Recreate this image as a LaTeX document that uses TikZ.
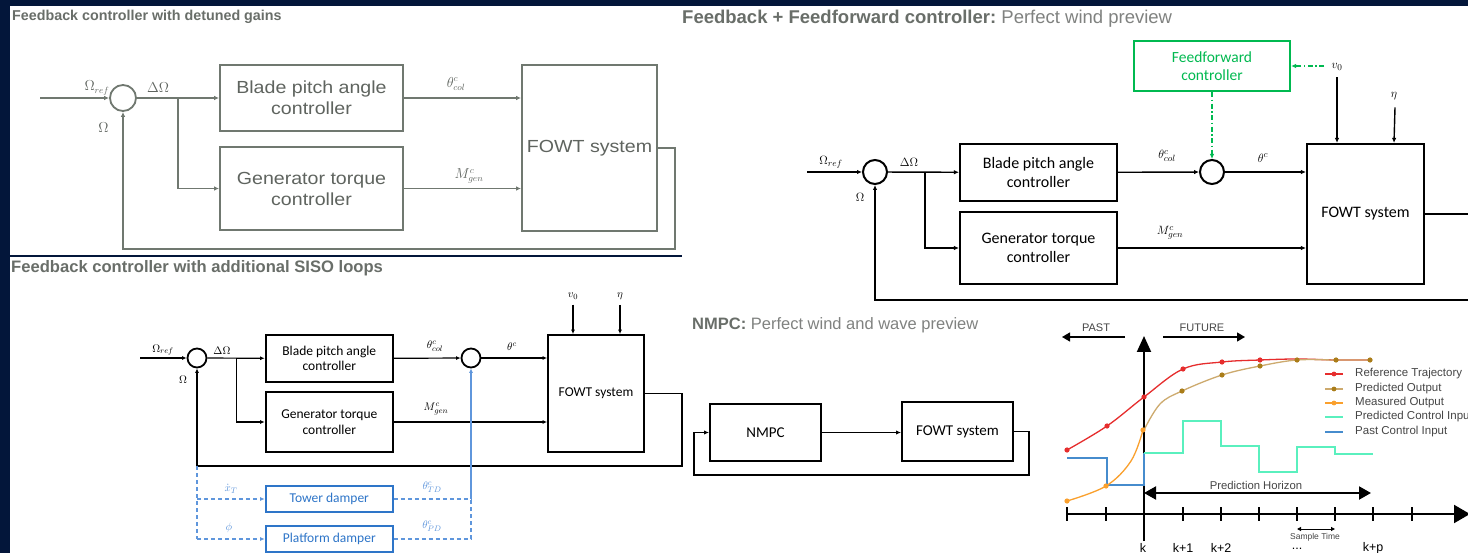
\documentclass[tikz,border=0pt]{standalone}
\usepackage{fontspec}
\setmainfont{Liberation Sans}
\newfontfamily\calibrifont{Carlito}
\newfontfamily\widefont[FakeStretch=1.12]{Liberation Sans}
\usetikzlibrary{arrows.meta, calc, positioning}

\definecolor{navybg}{RGB}{3,22,58}
\definecolor{titlegray}{RGB}{105,110,105}
\definecolor{titlelight}{RGB}{128,130,128}
\definecolor{p1gray}{RGB}{112,120,112}
\definecolor{p1text}{RGB}{95,100,95}
\definecolor{ffgreen}{RGB}{0,185,80}
\definecolor{dampblue}{RGB}{46,117,200}
\definecolor{damplight}{RGB}{95,150,220}
\definecolor{refred}{RGB}{230,45,45}
\definecolor{predbrown}{RGB}{170,125,25}
\definecolor{predline}{RGB}{205,170,110}
\definecolor{measorange}{RGB}{250,160,45}
\definecolor{ctrlgreen}{RGB}{90,240,190}
\definecolor{pastblue}{RGB}{70,140,205}
\definecolor{legtext}{RGB}{70,70,70}

\begin{document}
\begin{tikzpicture}[x=1pt, y=-1pt,
  titletxt/.style={anchor=west, inner sep=0pt, text=titlegray},
  sumnode/.style={circle, draw, inner sep=0pt},
  box1/.style={draw=p1gray, line width=1.8pt, align=center, inner sep=0pt, text=p1text, font=\widefont\fontsize{17.5}{21}\selectfont},
  ln1/.style={draw=p1gray, line width=1.6pt, -{Latex[length=5pt,width=4.5pt]}},
  lab1/.style={text=p1text, font=\fontsize{13.5}{15}\selectfont},
  box2/.style={draw, line width=2.2pt, align=center, inner sep=0pt, font=\calibrifont\fontsize{16}{19}\selectfont},
  ln2/.style={line width=1.4pt, -{Latex[length=5pt,width=4.5pt]}},
  lab2/.style={font=\fontsize{13}{15}\selectfont},
  box3/.style={draw, line width=1.8pt, align=center, inner sep=0pt, font=\calibrifont\fontsize{13.5}{15.5}\selectfont},
  ln3/.style={line width=1.2pt, -{Latex[length=4.5pt,width=4pt]}},
  lab3/.style={font=\fontsize{11}{13}\selectfont},
  bl3/.style={damplight, line width=1.2pt, dash pattern=on 4pt off 3pt},
  chartxt/.style={text=legtext, inner sep=0pt}
]
\clip (0,0) rectangle (1468,553);
% fondo
\fill[navybg] (0,0) rectangle (1468,553);
\fill[white] (10,6) rectangle (1468,553);
\draw[navybg, line width=2.2pt] (10,256) -- (682,256);

% Panel 1: ganancias desintonizadas
\node[titletxt, font=\fontsize{14.3}{16}\selectfont\bfseries] (t1) at (12,17) {Feedback controller with detuned gains};
\coordinate (in1) at (40,98);
\node[sumnode, draw=p1gray, line width=1.8pt, minimum size=26] (s1) at (123,98) {};
\node[box1, minimum width=183, minimum height=66] (bp1) at (311.5,98) {Blade pitch angle\\controller};
\node[box1, minimum width=183, minimum height=83] (gt1) at (311.5,188.5) {Generator torque\\controller};
\node[box1, minimum width=135, minimum height=166] (fw1) at (589.5,148) {FOWT system};
\coordinate (br1) at (178,98);
\coordinate (fb1) at (675,249);
\draw[ln1] (in1) -- (s1);
\draw[ln1] (s1) -- (bp1);
\draw[ln1] (br1) |- (gt1);
\draw[ln1] (bp1) -- (bp1 -| fw1.west);
\draw[ln1] (gt1) -- (gt1 -| fw1.west);
\draw[ln1] (fw1) -| (fb1) -| (s1);
\node[lab1] (lr1) at (97,88) {$\Omega_{ref}$};
\node[lab1] (ld1) at (158,88) {$\Delta\Omega$};
\node[lab1] (lo1) at (103.5,128) {$\Omega$};
\node[lab1] (lt1) at (456,84) {$\theta^{c}_{col}$};
\node[lab1] (lm1) at (469,176) {$M^{c}_{gen}$};

% Panel 2: realimentacion + prealimentacion
\node[titletxt, font=\fontsize{18.5}{20}\selectfont] (t2) at (682,19) {{\bfseries Feedback + Feedforward controller:}\ {\color{titlelight}Perfect wind preview}};
\coordinate (in2) at (807,172);
\node[sumnode, line width=2pt, minimum size=24] (s2a) at (875,172) {};
\node[box2, minimum width=157, minimum height=57] (bp2) at (1038.5,172.5) {Blade pitch angle\\controller};
\node[box2, minimum width=157, minimum height=72] (gt2) at (1038.5,248) {Generator torque\\controller};
\node[sumnode, line width=2pt, minimum size=24] (s2b) at (1212,172) {};
\node[box2, minimum width=117, minimum height=140] (fw2) at (1365.5,214) {FOWT system};
\node[box2, draw=ffgreen, text=ffgreen, minimum width=156, minimum height=50, font=\calibrifont\fontsize{15.5}{18.5}\selectfont] (ff2) at (1212,66) {Feedforward\\controller};
\coordinate (br2) at (925,172);
\coordinate (fb2) at (1480,300);
\node[lab2] (lv2) at (1337,67) {$v_0$};
\node[lab2] (le2) at (1394,96) {$\eta$};
\draw[ln2] (in2) -- (s2a);
\draw[ln2] (s2a) -- (bp2);
\draw[ln2] (br2) |- (gt2);
\draw[ln2] (bp2) -- (s2b);
\draw[ln2] (s2b) -- (s2b -| fw2.west);
\draw[ln2] (gt2) -- (gt2 -| fw2.west);
\draw[ln2] (fw2) -| (fb2) -| (s2a);
\draw[ln2] (lv2.south) ++(0,3) -- (lv2.south |- fw2.north);
\draw[ln2] (le2.south) ++(1,4) -- (le2.south |- fw2.north);
\draw[ffgreen, line width=1.3pt, dash pattern=on 5pt off 2.5pt on 1.5pt off 2.5pt, -{Latex[length=5pt,width=4.5pt]}] (lv2.west) ++(-4,-1) -- (ff2.east);
\draw[ffgreen, line width=1.3pt, dash pattern=on 5pt off 2.5pt on 1.5pt off 2.5pt, -{Latex[length=5pt,width=4.5pt]}] (ff2) -- (s2b);
\node[lab2] (lr2) at (831,162) {$\Omega_{ref}$};
\node[lab2] (ld2) at (909,162) {$\Delta\Omega$};
\node[lab2] (lo2) at (860,197) {$\Omega$};
\node[lab2] (lt2) at (1167,156) {$\theta^{c}_{col}$};
\node[lab2] (lc2) at (1263,158) {$\theta^{c}$};
\node[lab2] (lm2) at (1170,233) {$M^{c}_{gen}$};

% Panel 3: lazos SISO adicionales
\node[titletxt, font=\fontsize{16.6}{18}\selectfont\bfseries] (t3) at (11,268) {Feedback controller with additional SISO loops};
\coordinate (in3) at (140,358);
\node[sumnode, line width=1.8pt, minimum size=19] (s3a) at (197,358) {};
\node[box3, minimum width=127.4, minimum height=47] (bp3) at (329.3,358.5) {Blade pitch angle\\controller};
\node[box3, minimum width=127.4, minimum height=60] (gt3) at (329.3,422) {Generator torque\\controller};
\node[sumnode, line width=1.8pt, minimum size=19] (s3b) at (471,358) {};
\node[box3, minimum width=96, minimum height=117] (fw3) at (596,393.5) {FOWT system};
\node[box3, draw=dampblue, text=dampblue, minimum width=127.4, minimum height=26] (td3) at (329.3,499) {Tower damper};
\node[box3, draw=dampblue, text=dampblue, minimum width=127.4, minimum height=26] (pd3) at (329.3,539) {Platform damper};
\coordinate (br3) at (236.5,358);
\coordinate (fb3) at (682,466);
\coordinate (d3a) at (197,466);
\coordinate (d3b) at (197,499);
\coordinate (d3c) at (197,539);
\coordinate (d3d) at (471,499);
\coordinate (d3e) at (471,539);
\node[lab3] (lv3) at (573,296) {$v_0$};
\node[lab3] (le3) at (620,296) {$\eta$};
\draw[ln3] (in3) -- (s3a);
\draw[ln3] (s3a) -- (bp3);
\draw[ln3] (br3) |- (gt3);
\draw[ln3] (bp3) -- (s3b);
\draw[ln3] (s3b) -- (s3b -| fw3.west);
\draw[ln3] (gt3) -- (gt3 -| fw3.west);
\draw[ln3] (fw3) -| (fb3) -| (s3a);
\draw[ln3] (lv3.south) ++(0,2) -- (lv3.south |- fw3.north);
\draw[ln3] (le3.south) ++(0,2) -- (le3.south |- fw3.north);
\draw[bl3] (d3a) -- (d3c);
\draw[bl3, -{Latex[length=4.5pt,width=4pt]}] (d3b) -- (td3);
\draw[bl3, -{Latex[length=4.5pt,width=4pt]}] (d3c) -- (pd3);
\draw[bl3] (td3) -- (d3d);
\draw[bl3] (pd3) -- (d3e) -- (d3d);
\draw[damplight, line width=1.2pt, -{Latex[length=4.5pt,width=4pt]}] (d3d) -- (s3b);
\node[lab3] (lr3) at (163,350) {$\Omega_{ref}$};
\node[lab3] (ld3) at (222,351) {$\Delta\Omega$};
\node[lab3] (lo3) at (183,380) {$\Omega$};
\node[lab3] (lt3) at (435,346) {$\theta^{c}_{col}$};
\node[lab3] (lc3) at (512,347) {$\theta^{c}$};
\node[lab3] (lm3) at (436,409) {$M^{c}_{gen}$};
\node[lab3, text=damplight] (lx3) at (231,489) {$\dot{x}_T$};
\node[lab3, text=damplight] (lp3) at (229,528) {$\phi$};
\node[lab3, text=damplight] (ltd3) at (432,487) {$\theta^{c}_{TD}$};
\node[lab3, text=damplight] (lpd3) at (432,526) {$\theta^{c}_{PD}$};

% Panel 4: NMPC
\node[titletxt, font=\fontsize{16.5}{18}\selectfont] (t4) at (692,325) {{\bfseries NMPC:}\ {\color{titlelight}Perfect wind and wave preview}};
\node[box2, line width=2pt, minimum width=111, minimum height=57, font=\calibrifont\fontsize{15}{18}\selectfont] (nm4) at (765.5,432.5) {NMPC};
\node[box2, line width=2pt, minimum width=111, minimum height=59, font=\calibrifont\fontsize{15}{18}\selectfont] (fw4) at (957.5,431.5) {FOWT system};
\coordinate (fb4) at (1029,475);
\coordinate (fb4b) at (694,432.5);
\draw[ln2] (nm4) -- (nm4 -| fw4.west);
\draw[ln2] (fw4) -| (fb4) -| (fb4b) -- (nm4);

% Panel 5: horizonte de prediccion
\draw[line width=2pt, -{Triangle[length=16pt,width=18pt]}] (1067,514) -- (1470,514);
\draw[line width=2pt, -{Triangle[length=16pt,width=14pt]}] (1144,541) -- (1144,336);
\foreach \tx in {1067,1106,1144,1183,1221,1259,1297,1335,1373,1412}
  \draw[line width=1.4pt] (\tx,507) -- (\tx,521);
\node[chartxt, text=black, font=\fontsize{12.5}{14}\selectfont] (lk) at (1143,548) {k};
\node[chartxt, text=black, font=\fontsize{12.5}{14}\selectfont] (lk1) at (1183,548) {k+1};
\node[chartxt, text=black, font=\fontsize{12.5}{14}\selectfont] (lk2) at (1221,548) {k+2};
\node[chartxt, text=black, font=\fontsize{12.5}{14}\selectfont] (ldt) at (1297,549) {...};
\node[chartxt, text=black, font=\fontsize{12.5}{14}\selectfont] (lkp) at (1373,548) {k+p};
\draw[line width=1pt, {Triangle[length=4pt,width=4pt]}-{Triangle[length=4pt,width=4pt]}] (1297,529) -- (1335,529);
\node[chartxt, font=\fontsize{8.5}{10}\selectfont] (lst) at (1315,537) {Sample Time};
\node[chartxt, font=\fontsize{11}{13}\selectfont] (lpa) at (1096,328) {PAST};
\node[chartxt, font=\fontsize{11}{13}\selectfont] (lfu) at (1202,328) {FUTURE};
\draw[line width=1.3pt, -{Triangle[length=8pt,width=9pt]}] (1125,337) -- (1062,337);
\draw[line width=1.3pt, -{Triangle[length=8pt,width=9pt]}] (1163,337) -- (1245,337);
\node[chartxt, font=\fontsize{11.3}{13}\selectfont] (lph) at (1256,485) {Prediction Horizon};
\draw[line width=2pt, {Triangle[length=12pt,width=13pt]}-{Triangle[length=12pt,width=13pt]}] (1144,493) -- (1371,493);
% entradas de control
\draw[pastblue, line width=1.5pt] (1067,458) -- (1107,458) -- (1107,485) -- (1144,485) -- (1144,453);
\draw[ctrlgreen, line width=1.5pt] (1144,453) -- (1183,453) -- (1183,421) -- (1221,421) -- (1221,446) -- (1259,446) -- (1259,472) -- (1297,472) -- (1297,447) -- (1335,447) -- (1335,454) -- (1373,454);
% salidas
\draw[refred, line width=1.3pt] plot[smooth, tension=0.6] coordinates {(1067,450) (1107,426) (1144,397) (1183,369) (1222,362) (1260,360) (1297,359) (1336,360) (1370,360)};
\draw[predline, line width=1.3pt] plot[smooth, tension=0.6] coordinates {(1144,430) (1160,404) (1182,391) (1222,375) (1260,366) (1297,360) (1336,360) (1370,360)};
\draw[measorange, line width=1.3pt] plot[smooth, tension=0.6] coordinates {(1067,501) (1106,486) (1131,461) (1143,430)};
\foreach \px/\py in {1067/450,1107/426,1144/397,1183/369,1222/362,1260/360}
  \fill[refred] (\px,\py) circle (2.6);
\foreach \px/\py in {1182/391,1222/375,1260/366,1297/360,1336/360,1370/360}
  \fill[predbrown] (\px,\py) circle (2.6);
\foreach \px/\py in {1067/501,1106/486,1143/430}
  \fill[measorange] (\px,\py) circle (2.6);
% leyenda
\draw[refred, line width=1.3pt] (1325,374) -- (1343,374);
\fill[refred] (1334,374) circle (2.4);
\draw[predline, line width=1.3pt] (1325,389) -- (1343,389);
\fill[predbrown] (1334,389) circle (2.4);
\draw[measorange, line width=1.3pt] (1325,403) -- (1343,403);
\fill[measorange] (1334,403) circle (2.4);
\draw[ctrlgreen, line width=1.5pt] (1325,417) -- (1343,417);
\draw[pastblue, line width=1.5pt] (1325,432) -- (1343,432);
\node[chartxt, anchor=west, font=\fontsize{11.5}{13}\selectfont] (lg1) at (1355,374) {Reference Trajectory};
\node[chartxt, anchor=west, font=\fontsize{11.5}{13}\selectfont] (lg2) at (1355,389) {Predicted Output};
\node[chartxt, anchor=west, font=\fontsize{11.5}{13}\selectfont] (lg3) at (1355,403) {Measured Output};
\node[chartxt, anchor=west, font=\fontsize{11.5}{13}\selectfont] (lg4) at (1355,417) {Predicted Control Input};
\node[chartxt, anchor=west, font=\fontsize{11.5}{13}\selectfont] (lg5) at (1355,432) {Past Control Input};
\end{tikzpicture}
\end{document}
